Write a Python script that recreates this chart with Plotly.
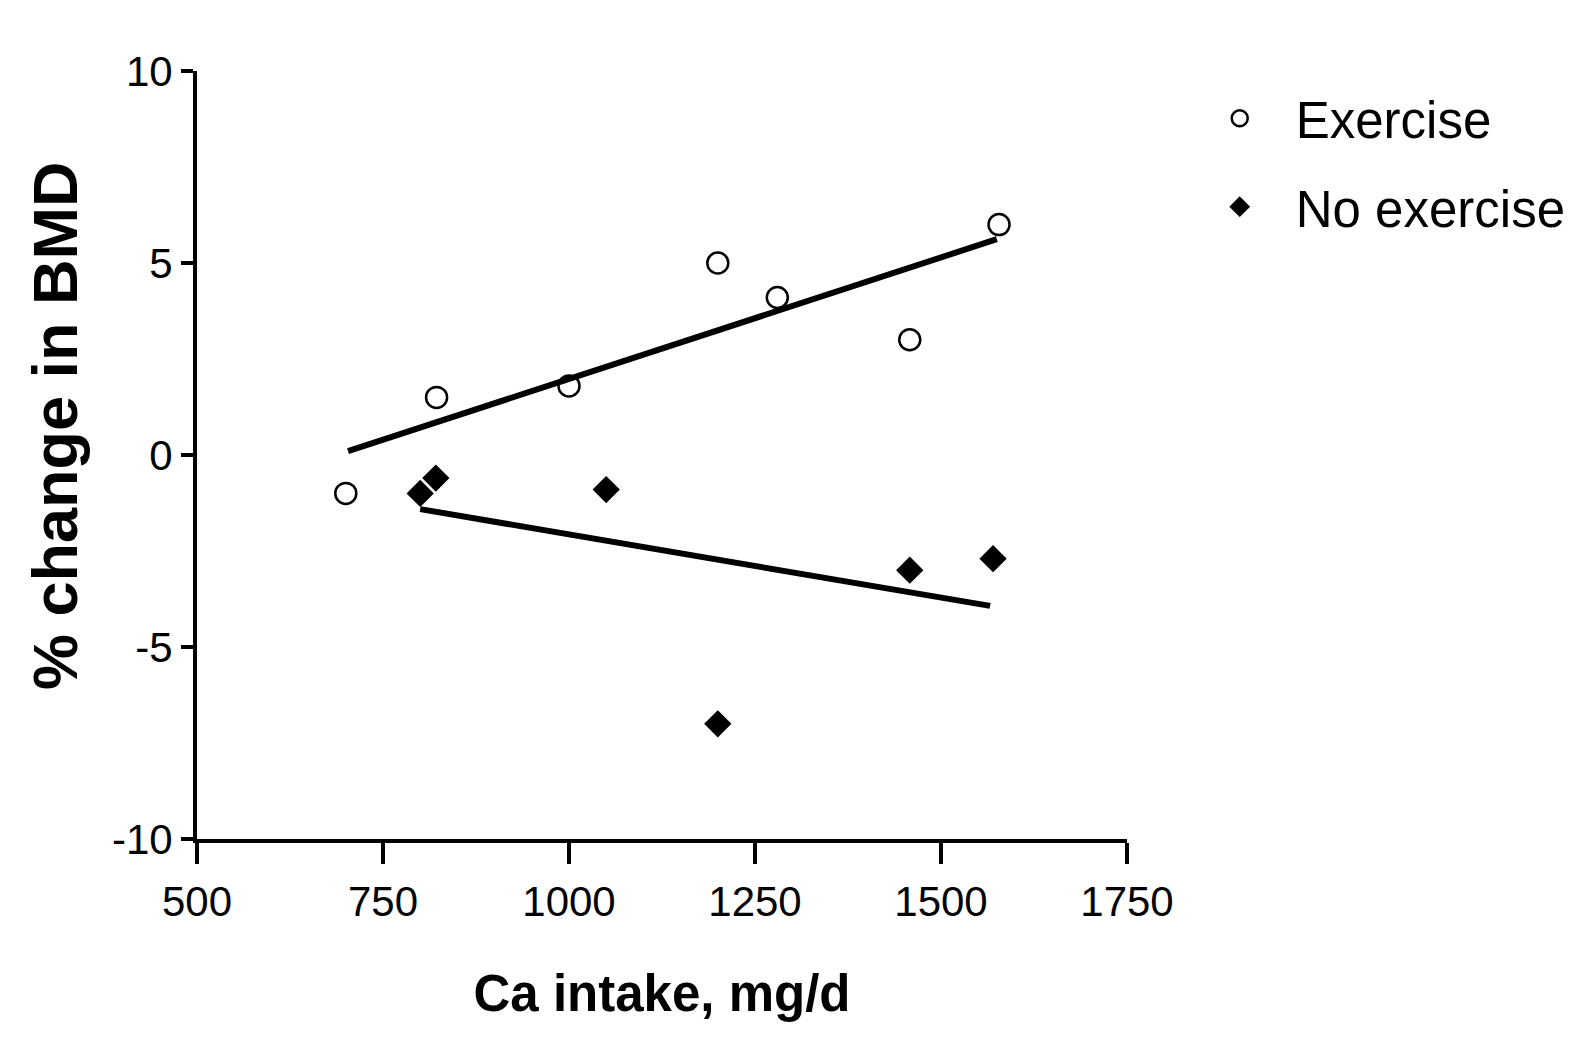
import plotly.graph_objects as go

# Data
ex_x = [700, 822, 1000, 1200, 1280, 1458, 1578]
ex_y = [-1.0, 1.5, 1.8, 5.0, 4.1, 3.0, 6.0]
noex_x = [800, 821, 1050, 1200, 1458, 1570]
noex_y = [-1.0, -0.6, -0.9, -7.0, -3.0, -2.7]
ex_fit_x = [703, 1575]
ex_fit_y = [0.1, 5.62]
noex_fit_x = [800, 1566]
noex_fit_y = [-1.41, -3.93]
x_ticks = [500, 750, 1000, 1250, 1500, 1750]
x_labels = ["500", "750", "1000", "1250", "1500", "1750"]
y_ticks = [-10, -5, 0, 5, 10]
y_labels = ["-10", "-5", "0", "5", "10"]

FONT = "Liberation Sans, Arial"

fig = go.Figure()
fig.add_trace(go.Scatter(x=ex_fit_x, y=ex_fit_y, mode="lines",
                         line=dict(color="black", width=6), showlegend=False, hoverinfo="skip"))
fig.add_trace(go.Scatter(x=noex_fit_x, y=noex_fit_y, mode="lines",
                         line=dict(color="black", width=6), showlegend=False, hoverinfo="skip"))
fig.add_trace(go.Scatter(x=ex_x, y=ex_y, mode="markers", name="Exercise",
                         marker=dict(symbol="circle-open", size=21, color="black",
                                     line=dict(width=2.5, color="black")),
                         legend="legend"))
fig.add_trace(go.Scatter(x=noex_x, y=noex_y, mode="markers", name="No exercise",
                         marker=dict(symbol="diamond", size=21, color="black"),
                         legend="legend2"))

axis_common = dict(showline=True, linecolor="black", linewidth=4, ticks="outside",
                   tickcolor="black", tickwidth=4, showgrid=False, zeroline=False,
                   automargin=False,
                   tickfont=dict(family=FONT, size=42, color="black"))

fig.update_xaxes(range=[500, 1750], tickvals=x_ticks, ticktext=x_labels, ticklen=21,
                 ticklabelstandoff=2,
                 title=dict(text="<b>Ca intake, mg/d</b>", standoff=52,
                            font=dict(family=FONT, size=51, color="black")),
                 **axis_common)
fig.update_yaxes(range=[-10, 10], tickvals=y_ticks, ticktext=y_labels, ticklen=12,
                 ticklabelstandoff=0, **axis_common)

fig.add_annotation(text="<b>% change in BMD</b>", textangle=-90, showarrow=False,
                   xref="paper", yref="paper", x=-0.1527, y=0.539,
                   xanchor="center", yanchor="middle",
                   font=dict(family=FONT, size=63, color="black"))

fig.update_layout(
    width=1573, height=1041,
    margin=dict(l=189, r=454, t=63, b=210, autoexpand=False),
    plot_bgcolor="white", paper_bgcolor="white",
    legend=dict(x=1.061, y=0.99, xanchor="left", yanchor="top", bgcolor="rgba(0,0,0,0)",
                itemwidth=102,
                font=dict(family=FONT, size=51, color="black")),
    legend2=dict(x=1.061, y=0.875, xanchor="left", yanchor="top", bgcolor="rgba(0,0,0,0)",
                 itemwidth=102,
                 font=dict(family=FONT, size=51, color="black")),
)

fig.write_html("out.html")
